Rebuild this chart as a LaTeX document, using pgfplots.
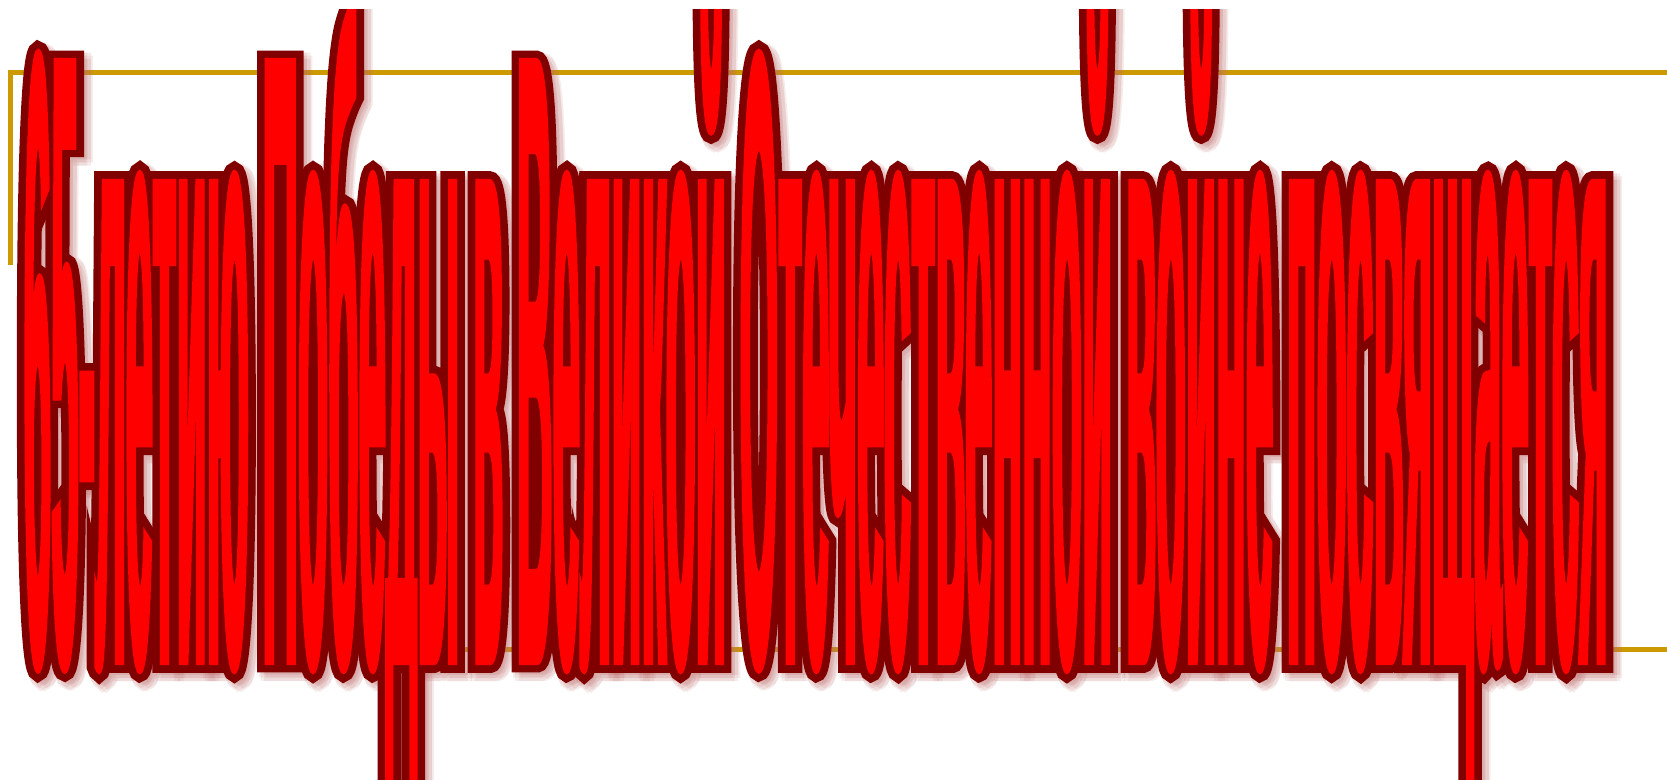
\documentclass[border=0pt]{standalone}
\usepackage{fontspec}
\setmainfont{Liberation Sans}
\usepackage{graphicx}
\usepackage{pgfplots}
\pgfplotsset{compat=1.18}

\definecolor{gold}{RGB}{204,153,0}
\definecolor{fillred}{RGB}{255,0,0}
\definecolor{edgered}{RGB}{128,0,0}
\definecolor{shadowred}{RGB}{190,110,110}

\newfontfamily\wanat{Liberation Sans Bold}
% capitals and digits are a bit shorter than the stretched lower case
\newcommand\capsq[1]{\scalebox{1}[0.96]{#1}}
\newcommand\watext{\capsq{65}-летию \capsq{П}обеды в \capsq{В}еликой \capsq{О}течественной войне посвящается}
\newlength\natw
% #1 colour, #2 pdf text render mode and line width
\newcommand\walayer[2]{\special{pdf:literal direct #2}{\color{#1}\waf\fontsize{229}{229}\selectfont\watext}\special{pdf:literal direct 0 Tr}}

\begin{document}%
\settowidth\natw{\wanat\fontsize{229}{229}\selectfont\watext}%
\pgfmathsetmacro\wastretch{396/\natw}%
\edef\tmp{\noexpand\newfontfamily\noexpand\waf[FakeStretch=\wastretch]{Liberation Sans Bold}}\tmp%
\begin{tikzpicture}
\begin{axis}[
  scale only axis,
  width=416.75pt, height=195pt,
  xmin=0, xmax=1667, ymin=0, ymax=780,
  hide axis, clip=false,
  ]
  % gold frame
  \addplot[gold, line width=1.25pt, line join=miter] coordinates {(10,515) (10,707) (1667,707)};
  \addplot[gold, line width=1.25pt] coordinates {(280,130) (1667,130)};

  \begin{scope}
    \clip (axis cs:0,0) rectangle (axis cs:1667,770);
    % soft shadow
    \pgfplotsinvokeforeach{0,60,...,300}{
      \node[anchor=base west, inner sep=0pt, opacity=0.13,
            xshift={1.3pt+0.9pt*cos(#1)}, yshift={-1.3pt+0.9pt*sin(#1)}]
        at (axis cs:23,116) {\walayer{shadowred}{2 Tr 4.4 w}};
    }
    % dark outline (wide stroke), red letters (narrow stroke) on top
    \node[anchor=base west, inner sep=0pt]
      at (axis cs:23,116) {\walayer{edgered}{2 Tr 4.4 w}};
    \node[anchor=base west, inner sep=0pt]
      at (axis cs:23,116) {\walayer{fillred}{2 Tr 0.6 w}};
  \end{scope}
\end{axis}
\pgfresetboundingbox
\useasboundingbox (current axis.south west) rectangle (current axis.north east);
\end{tikzpicture}%
\end{document}
